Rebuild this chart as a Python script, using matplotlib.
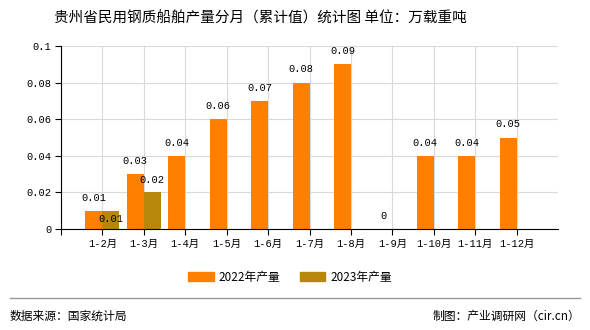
import numpy as np
import matplotlib.pyplot as plt
from matplotlib.patches import Rectangle
from matplotlib.lines import Line2D

plt.rcParams['font.family'] = ['Noto Sans CJK SC', 'DejaVu Sans']

months = ["1-2月", "1-3月", "1-4月", "1-5月", "1-6月", "1-7月",
          "1-8月", "1-9月", "1-10月", "1-11月", "1-12月"]
prod_2022 = [0.01, 0.03, 0.04, 0.06, 0.07, 0.08, 0.09, 0, 0.04, 0.04, 0.05]
prod_2023 = [0.01, 0.02]
yticks = [0, 0.02, 0.04, 0.06, 0.08, 0.1]
ytick_labels = ["0", "0.02", "0.04", "0.06", "0.08", "0.1"]

c22 = "#FF8000"
c23 = "#B8860B"
num_font = ['Liberation Mono', 'Noto Sans CJK SC']

fig = plt.figure(figsize=(5.9, 3.3), dpi=100)
ax = fig.add_axes([61 / 590, 1 - 229 / 330, 497 / 590, 183 / 330])

x = np.arange(len(months))
w = 0.41
ax.bar(x - w / 2, prod_2022, width=w, color=c22, zorder=3)
x23 = x[:len(prod_2023)]
ax.bar(x23 + w / 2, prod_2023, width=w, color=c23, zorder=3)

# value labels
for xi, v in zip(x, prod_2022):
    ax.annotate(f"{v:g}", (xi - w / 2, v), xytext=(0, 9.5), textcoords="offset points",
                ha="center", va="center", fontsize=7.5, family=num_font, zorder=4)
offsets_23 = [-6, 9]  # first one sits inside the bar to avoid the 2022 label
for xi, v, off in zip(x23, prod_2023, offsets_23):
    ax.annotate(f"{v:g}", (xi + w / 2, v), xytext=(0, off), textcoords="offset points",
                ha="center", va="center", fontsize=7.5, family=num_font, zorder=4)

ax.set_xlim(-1, len(months))
ax.set_ylim(0, 0.1)
ax.set_yticks(yticks)
ax.set_yticklabels(ytick_labels, family=num_font, fontsize=7.5)
ax.set_xticks(np.arange(-1, len(months)))
ax.set_xticklabels([""] + months, family=num_font, fontsize=7.5)
ax.tick_params(length=4, width=0.8, color="black", pad=3)

ax.grid(True, color="#d9d9d9", linewidth=0.8, zorder=0)
for s in ["top", "right"]:
    ax.spines[s].set_visible(False)
for s in ["left", "bottom"]:
    ax.spines[s].set_color("black")
    ax.spines[s].set_linewidth(0.8)
    ax.spines[s].set_zorder(5)

fig.text(260 / 590, 1 - 18 / 330, "贵州省民用钢质船舶产量分月（累计值）统计图 单位：万载重吨",
         ha="center", va="center", fontsize=10.5)

# legend
handles = [Rectangle((0, 0), 1, 1, color=c22), Rectangle((0, 0), 1, 1, color=c23)]
fig.legend(handles, ["2022年产量", "2023年产量"], loc="center",
           bbox_to_anchor=(290 / 590, 1 - 277 / 330), ncol=2, frameon=False,
           fontsize=8.5, handlelength=2.2, handleheight=0.7, columnspacing=1.6,
           handletextpad=0.4)

# footer
fig.add_artist(Line2D([10 / 590, 580 / 590], [1 - 298 / 330] * 2,
                      color="#999999", linewidth=1, transform=fig.transFigure))
fig.text(10 / 590, 1 - 316 / 330, "数据来源：国家统计局", ha="left", va="center", fontsize=8.5)
fig.text(580 / 590, 1 - 316 / 330, "制图：产业调研网（cir.cn）", ha="right", va="center", fontsize=8.5)

fig.savefig("out.png", dpi=100)
